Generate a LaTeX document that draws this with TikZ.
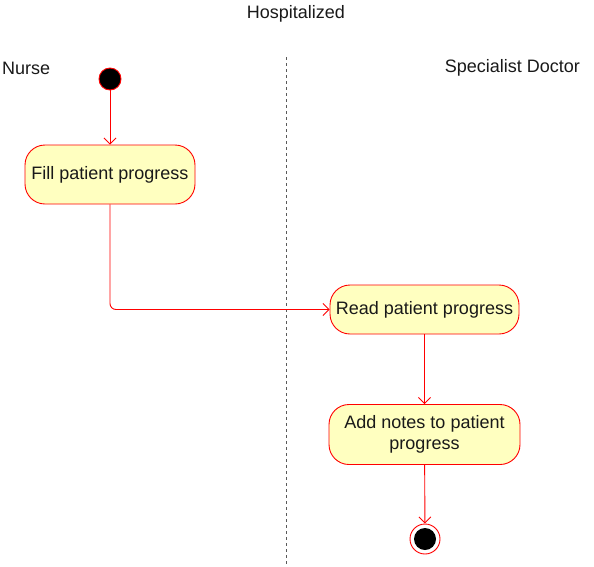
\documentclass[tikz,border=0pt]{standalone}
\usepackage{fontspec}
\setmainfont{Liberation Sans}
\usetikzlibrary{arrows.meta}
\definecolor{act}{HTML}{FFFFC0}
\begin{document}
\begin{tikzpicture}[x=1pt,y=-1pt,
  actbox/.style={draw=red,fill=act,line width=0.9pt,rounded corners=20pt,inner sep=0pt,align=center,font=\fontsize{18}{21.5}\selectfont,text=black!90},
  lbl/.style={font=\fontsize{18}{21.5}\selectfont,text=black!90,inner sep=0pt},
  flow/.style={draw=red,line width=0.9pt,-{Straight Barb[length=6pt,width=12pt]}}]
\useasboundingbox (0,0) rectangle (594,566);
\node[lbl] (title) at (296,14) {Hospitalized};
\node[lbl,anchor=west] (nurse) at (2,68) {Nurse};
\node[lbl,anchor=east] (doc) at (580,68) {Specialist Doctor};
\coordinate (dtop) at (286,57);
\coordinate (dbot) at (286,566);
\draw[dashed,gray!70!black,line width=0.6pt,dash pattern=on 3pt off 3pt] (dtop) -- (dbot);
\node[circle,draw=red,fill=black,minimum size=22pt,inner sep=0pt,line width=0.9pt] (start) at (110,79) {};
\node[actbox,minimum width=170pt,minimum height=59pt] (fill) at (110,174.5) {\raisebox{-1pt}{Fill patient progress}};
\node[actbox,minimum width=189pt,minimum height=49pt] (read) at (424.5,309.5) {\raisebox{-1pt}{Read patient progress}};
\node[actbox,minimum width=191pt,minimum height=60pt] (add) at (424.5,434.5) {Add notes to patient\\progress};
\node[circle,draw=red,fill=white,minimum size=30pt,inner sep=0pt,line width=0.9pt] (endo) at (425,539) {};
\node[circle,fill=black,minimum size=22pt,inner sep=0pt] (endi) at (425,539) {};
\draw[flow] (start) -- (fill);
\draw[flow,rounded corners=6pt] (fill.south) |- (read.west);
\draw[flow] (read) -- (add);
\draw[flow] (add) -- (endo);
\end{tikzpicture}
\end{document}
